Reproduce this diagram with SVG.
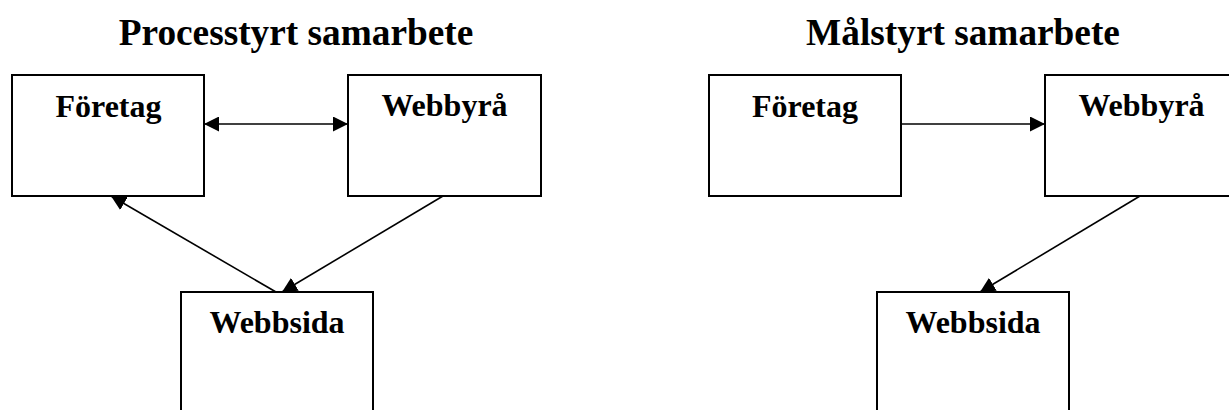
<svg xmlns="http://www.w3.org/2000/svg" width="1229" height="410" viewBox="0 0 1229 410">
  <style>
    .box { fill: #fff; stroke: #000; stroke-width: 2; }
    .label { font-family: "Liberation Serif", "Times New Roman", serif; font-weight: bold; font-size: 32px; text-anchor: middle; fill: #000; }
    .title { font-family: "Liberation Serif", "Times New Roman", serif; font-weight: bold; font-size: 37.3px; text-anchor: middle; fill: #000; }
    .conn { fill: none; stroke: #000; stroke-width: 1.6; }
  </style>
  <defs>
    <marker id="head" markerUnits="userSpaceOnUse" markerWidth="16" markerHeight="15" refX="15" refY="7.5" orient="auto-start-reverse">
      <path d="M0,0 L15,7.5 L0,15 Z" fill="#000"/>
    </marker>
  </defs>
  <rect width="1229" height="410" fill="#fff"/>

  <!-- titles -->
  <text class="title" x="296" y="45">Processtyrt samarbete</text>
  <text class="title" x="963" y="45">Målstyrt samarbete</text>

  <!-- process-driven side -->
  <g id="p-foretag">
    <rect class="box" x="12" y="75" width="192" height="121"/>
    <text class="label" x="108.5" y="116.5">Företag</text>
  </g>
  <g id="p-webbyra">
    <rect class="box" x="348" y="75" width="193" height="121"/>
    <text class="label" x="444.5" y="116">Webbyrå</text>
  </g>
  <g id="p-webbsida">
    <rect class="box" x="181" y="292" width="192" height="130"/>
    <text class="label" x="277" y="333">Webbsida</text>
  </g>

  <!-- goal-driven side -->
  <g id="m-foretag">
    <rect class="box" x="709" y="75" width="192" height="121"/>
    <text class="label" x="805" y="116.5">Företag</text>
  </g>
  <g id="m-webbyra">
    <rect class="box" x="1045" y="75" width="193" height="121"/>
    <text class="label" x="1141.5" y="116">Webbyrå</text>
  </g>
  <g id="m-webbsida">
    <rect class="box" x="877" y="292" width="192" height="130"/>
    <text class="label" x="973" y="333">Webbsida</text>
  </g>

  <g id="connectors">
    <line class="conn" x1="204" y1="124" x2="348" y2="124" marker-start="url(#head)" marker-end="url(#head)"/>
    <line class="conn" x1="276" y1="292" x2="111" y2="196" marker-end="url(#head)"/>
    <line class="conn" x1="443" y1="196" x2="282" y2="292" marker-end="url(#head)"/>
    <line class="conn" x1="901" y1="124" x2="1045" y2="124" marker-end="url(#head)"/>
    <line class="conn" x1="1140" y1="196" x2="980" y2="292" marker-end="url(#head)"/>
  </g>
</svg>
